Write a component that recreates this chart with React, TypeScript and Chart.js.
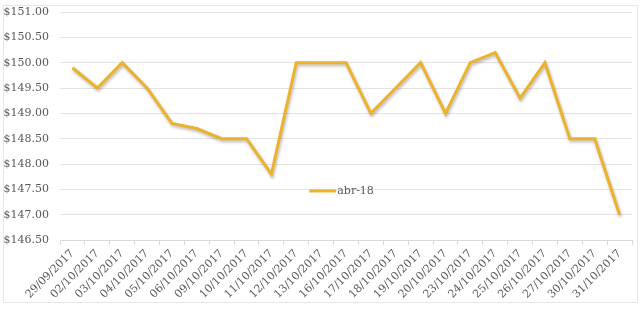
import React, { useEffect, useRef } from "react";
import { Chart, registerables } from "chart.js";

Chart.register(...registerables);

const categories = [
  "29/09/2017", "02/10/2017", "03/10/2017", "04/10/2017", "05/10/2017",
  "06/10/2017", "09/10/2017", "10/10/2017", "11/10/2017", "12/10/2017",
  "13/10/2017", "16/10/2017", "17/10/2017", "18/10/2017", "19/10/2017",
  "20/10/2017", "23/10/2017", "24/10/2017", "25/10/2017", "26/10/2017",
  "27/10/2017", "30/10/2017", "31/10/2017",
];
const seriesLabel = "abr-18";
const seriesValues = [
  149.9, 149.5, 150.0, 149.5, 148.8,
  148.7, 148.5, 148.5, 147.8, 150.0,
  150.0, 150.0, 149.0, 149.5, 150.0,
  149.0, 150.0, 150.2, 149.3, 150.0,
  148.5, 148.5, 147.0,
];
const yMin = 146.5;
const yMax = 151.0;
const yStep = 0.5;

const FONT = "'DejaVu Serif', serif";
const TEXT = "#595959";
const LINE = "#EDB22B";

const shadowPlugin = {
  id: "shadow",
  beforeDatasetsDraw(chart: any) {
    const ctx = chart.ctx;
    ctx.save();
    ctx.shadowColor = "rgba(0,0,0,0.28)";
    ctx.shadowBlur = 3;
    ctx.shadowOffsetX = 1;
    ctx.shadowOffsetY = 2;
  },
  afterDatasetsDraw(chart: any) {
    chart.ctx.restore();
  },
};

const legendPlugin = {
  id: "innerLegend",
  afterDraw(chart: any) {
    const ctx = chart.ctx;
    const a = chart.chartArea;
    const x = a.left + (a.right - a.left) * 0.483;
    const y = a.top + (a.bottom - a.top) * 0.785;
    ctx.save();
    ctx.strokeStyle = LINE;
    ctx.lineWidth = 3;
    ctx.beginPath();
    ctx.moveTo(x - 27, y);
    ctx.lineTo(x, y);
    ctx.stroke();
    ctx.fillStyle = TEXT;
    ctx.font = "11px " + FONT;
    ctx.textBaseline = "middle";
    ctx.textAlign = "left";
    ctx.fillText(chart.data.datasets[0].label, x + 1, y);
    ctx.restore();
  },
};

export default function App() {
  const ref = useRef<HTMLCanvasElement>(null);

  useEffect(() => {
    document.body.style.margin = "0";
    const canvas = ref.current!;
    const chart = new Chart(canvas, {
      type: "line",
      data: {
        labels: categories,
        datasets: [
          {
            label: seriesLabel,
            data: seriesValues,
            borderColor: LINE,
            backgroundColor: LINE,
            borderWidth: 3,
            pointRadius: 0,
            tension: 0,
            borderJoinStyle: "miter",
          },
        ],
      },
      options: {
        animation: false,
        responsive: false,
        maintainAspectRatio: false,
        layout: { padding: { top: 12, right: 8, left: 0, bottom: 0 } },
        plugins: {
          legend: { display: false },
          tooltip: { enabled: false },
        },
        scales: {
          x: {
            type: "category",
            offset: true,
            grid: {
              display: true,
              offset: true,
              drawOnChartArea: false,
              drawTicks: true,
              tickLength: 5,
              color: "#d9d9d9",
            },
            border: { display: true, color: "#d9d9d9" },
            ticks: {
              autoSkip: false,
              minRotation: 45,
              maxRotation: 45,
              color: TEXT,
              font: { family: FONT, size: 11 },
              padding: 2,
            },
            afterFit(scale: any) {
              scale.height = 71;
            },
          },
          y: {
            min: yMin,
            max: yMax,
            grid: { color: "#e3e3e3", drawTicks: false },
            border: { display: false },
            ticks: {
              stepSize: yStep,
              color: TEXT,
              padding: 11,
              font: { family: FONT, size: 11 },
              callback: (v: any) => "$" + Number(v).toFixed(2),
            },
            afterFit(scale: any) {
              scale.width = 60;
              scale.paddingTop = 0;
            },
          },
        },
      },
      plugins: [shadowPlugin, legendPlugin],
    });
    return () => chart.destroy();
  }, []);

  return (
    <div style={{ position: "relative", width: 640, height: 311 }}>
      <div
        style={{
          position: "absolute",
          left: 3,
          top: 5,
          width: 633,
          height: 296,
          border: "1px solid #e6e6e6",
          pointerEvents: "none",
        }}
      />
      <canvas ref={ref} width={640} height={311} style={{ display: "block" }} />
    </div>
  );
}
